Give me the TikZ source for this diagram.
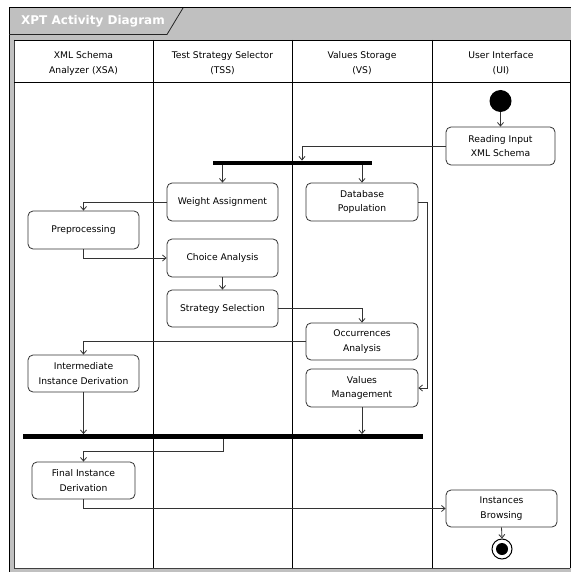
\documentclass[tikz,border=0pt]{standalone}
\usepackage{fontspec}
\setmainfont{DejaVu Sans}
\usetikzlibrary{arrows.meta}
\definecolor{framegrey}{HTML}{C0C0C0}
\definecolor{linegrey}{HTML}{333333}
\begin{document}
\begin{tikzpicture}[x=1pt,y=-1pt,
  act/.style={draw=linegrey, line width=0.8pt, rounded corners=5pt, fill=white,
     minimum width=111pt, minimum height=38pt, inner sep=0pt, align=center,
     font=\fontsize{9.2}{14.5}\selectfont},
  lanehead/.style={align=center, font=\fontsize{9.2}{15}\selectfont, inner sep=0pt},
  syncbar/.style={fill=black, draw=none, minimum height=4.5pt, inner sep=0pt},
  flow/.style={draw=linegrey, line width=0.8pt, -{Straight Barb[length=3.5pt,width=6pt]}},
  lane/.style={draw=black, line width=0.8pt}]
\useasboundingbox (0,0) rectangle (571,572);
% frame
\fill[framegrey] (9,7) rectangle (571,572);
\fill[white] (14,40) rectangle (570,568);
\draw[black, line width=0.9pt] (9,572) -- (9,7) -- (571,7);
\draw[black!75, line width=1pt] (14,40) -- (14,568) -- (570,568);
\draw[black!85, line width=0.8pt] (9,34.5) -- (167,34.5) -- (183,8);
\node[anchor=west, text=white, font=\bfseries\fontsize{12}{14}\selectfont, inner sep=0pt] (title) at (21,21.5) {XPT Activity Diagram};
% lanes
\draw[lane] (14,40) -- (570,40) -- (570,568);
\draw[lane] (14,82) -- (570,82);
\draw[lane] (153,40) -- (153,568);
\draw[lane] (292,40) -- (292,568);
\draw[lane] (432,40) -- (432,568);
\node[lanehead] (h1) at (83.5,63) {XML Schema\\Analyzer (XSA)};
\node[lanehead] (h2) at (222.5,63) {Test Strategy Selector\\(TSS)};
\node[lanehead] (h3) at (362,63) {Values Storage\\(VS)};
\node[lanehead] (h4) at (501,63) {User Interface\\(UI)};
% nodes
\node[circle, fill=black, minimum size=22pt, inner sep=0pt] (start) at (500.5,101) {};
\node[act, minimum width=109pt] (read) at (500.5,146) {Reading Input\\XML Schema};
\node[syncbar, minimum width=159pt] (b1) at (292.5,163) {};
\node[act] (wa) at (222.5,202) {Weight Assignment};
\node[act, minimum width=112pt] (db) at (362,202) {Database\\Population};
\node[act] (pre) at (83.5,230) {Preprocessing};
\node[act] (ca) at (222.5,258) {Choice Analysis};
\node[act, minimum height=37pt] (ss) at (222.5,308.5) {Strategy Selection};
\node[act, minimum width=112pt, minimum height=37pt] (oa) at (362,341.5) {Occurrences\\Analysis};
\node[act, minimum height=37pt] (iid) at (83.5,373.5) {Intermediate\\Instance Derivation};
\node[act, minimum width=112pt] (vm) at (362,388) {Values\\Management};
\node[syncbar, minimum width=400pt] (b2) at (223,436.5) {};
\node[act, minimum width=103pt, minimum height=37pt] (fid) at (83.5,480.5) {Final Instance\\Derivation};
\node[act, minimum height=37pt] (ib) at (501.5,508.5) {Instances\\Browsing};
\node[circle, draw=black, line width=1pt, minimum size=20pt, inner sep=0pt] (endc) at (502,549) {};
\node[circle, fill=black, minimum size=12pt, inner sep=0pt] (endi) at (502,549) {};
% flows
\draw[flow] (start.south) -- (read.north);
\draw[flow] (read.west) -| ([xshift=9.5pt]b1.north);
\draw[flow] (wa.north |- b1.south) -- (wa.north);
\draw[flow] (db.north |- b1.south) -- (db.north);
\draw[flow] (wa.west) -| (pre.north);
\draw[flow] (pre.south) |- (ca.west);
\draw[flow] (ca.south) -- (ss.north);
\draw[flow] (ss.east) -| (oa.north);
\draw[flow] (oa.west) -| (iid.north);
\draw[flow] (db.east) -- ++(9,0) |- (vm.east);
\draw[flow] (iid.south) -- (iid.south |- b2.north);
\draw[flow] (vm.south) -- (vm.south |- b2.north);
\draw[flow] (b2.south) -- ++(0,12) -| (fid.north);
\draw[flow] (fid.south) |- (ib.west);
\draw[flow] (ib.south) -- (endc.north);
\end{tikzpicture}
\end{document}
